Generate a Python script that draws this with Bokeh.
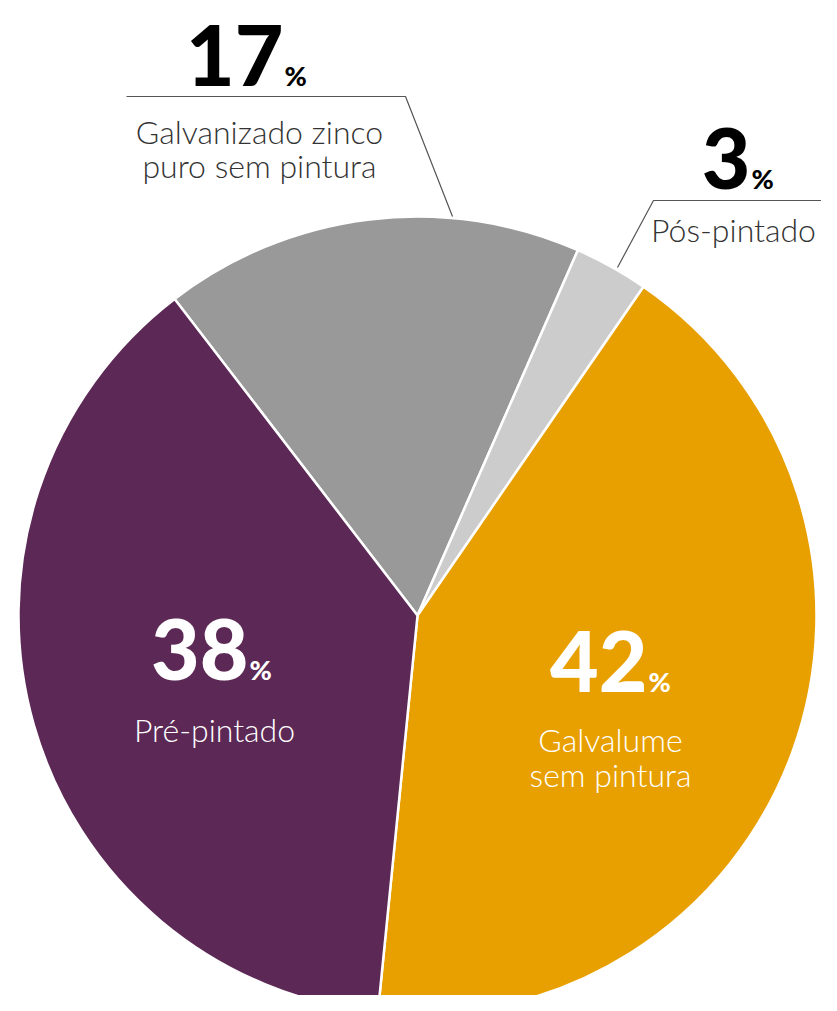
import numpy as np
from bokeh.plotting import figure
from bokeh.models import Range1d
from bokeh.core.properties import value
from bokeh.embed import file_html
from bokeh.resources import INLINE

# ---- data ----
labels = ["Galvanizado zinco\npuro sem pintura", "Pós-pintado", "Galvalume\nsem pintura", "Pré-pintado"]
values = [17, 3, 42, 38]
colors = ["#999999", "#cccccc", "#e8a000", "#5c2855"]
pct_text = [str(v) for v in values]

# ---- layout (screen pixel coordinates; y measured downward) ----
W, H = 821, 995
SY = 1011  # flip: data y = SY - screen y
p = figure(width=W, height=H, output_backend="svg", toolbar_location=None,
           x_range=Range1d(0, W), y_range=Range1d(SY - H, SY),
           min_border=0)
p.axis.visible = False
p.grid.visible = False
p.outline_line_color = None
p.background_fill_color = "white"
p.border_fill_color = "white"

cx, cy, r = 417, SY - 615, 399
start_deg = -37.5  # clockwise from top

fr = np.array(values, dtype=float) / sum(values)
cum = np.concatenate([[0], np.cumsum(fr)]) * 360.0 + start_deg
starts = 90 - cum[:-1]
ends = 90 - cum[1:]
p.wedge(x=cx, y=cy, radius=r, start_angle=list(starts), end_angle=list(ends),
        start_angle_units="deg", end_angle_units="deg", direction="clock",
        fill_color=colors, line_color="white", line_width=2.5)

# leader lines
p.line(x=[126, 405, 452], y=[SY - 96, SY - 96, SY - 216], line_color="#555555", line_width=1.2)
p.line(x=[840, 653, 617], y=[SY - 200, SY - 200, SY - 267], line_color="#555555", line_width=1.2)

BASE = 0.35  # empirical baseline correction (fraction of font size)
NUM_FS, PCT_FS, LAB_FS = 84, 27, 32

# number positions: (split x, baseline screen y, color)
num_pos = [(283, 84, "#000000"), (750, 187, "#000000"), (647, 690, "#ffffff"), (248, 678, "#ffffff")]
lab_pos = [(259, [142, 176], "#333333"), (733, [240], "#333333"),
           (610, [750, 785], "#ffffff"), (214, [740], "#ffffff")]

for t, (sx, by, c) in zip(pct_text, num_pos):
    p.text(x=[sx], y=[SY - (by - BASE * NUM_FS)], text=[t], text_font=value("Lato Black"),
           text_font_style="bold",
           text_font_size=f"{NUM_FS}px", text_align="right", text_baseline="alphabetic", text_color=c)
    p.text(x=[sx + 1], y=[SY - (by - BASE * PCT_FS)], text=["%"], text_font=value("Lato Black"),
           text_font_style="bold",
           text_font_size=f"{PCT_FS}px", text_align="left", text_baseline="alphabetic", text_color=c)

for lab, (lx, bys, c) in zip(labels, lab_pos):
    for line, by in zip(lab.split("\n"), bys):
        p.text(x=[lx], y=[SY - (by - BASE * LAB_FS)], text=[line], text_font=value("Lato Light"),
               text_font_size=f"{LAB_FS}px", text_align="center", text_baseline="alphabetic",
               text_color=c)

open("out.html", "w").write(file_html(p, INLINE))
